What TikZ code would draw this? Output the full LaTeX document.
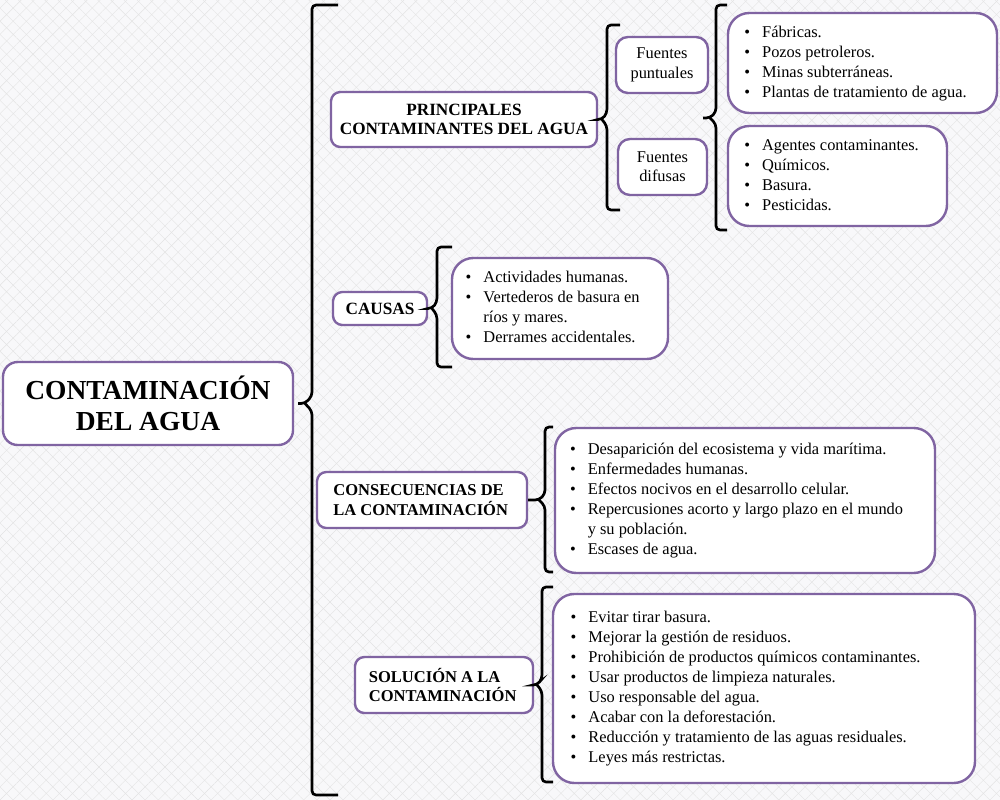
\documentclass[tikz,border=0pt]{standalone}
\usepackage{fontspec}
\setmainfont{Liberation Serif}
\usetikzlibrary{fit,patterns.meta}
\definecolor{purp}{HTML}{8064A2}
\definecolor{bgc}{HTML}{F8F8FA}
\begin{document}
\begin{tikzpicture}[x=0.75pt,y=-0.75pt,
  box/.style={draw=purp, line width=1.8pt, fill=white, inner sep=0pt},
  mainbox/.style={box, rounded corners=11pt},
  headbox/.style={box, rounded corners=7pt},
  listbox/.style={box, rounded corners=16pt},
  srcbox/.style={box, rounded corners=9pt},
  maintext/.style={inner sep=0pt, font=\fontsize{20.6}{23.3}\selectfont\bfseries, align=center},
  headtext/.style={inner sep=0pt, font=\fontsize{12.9}{14.5}\selectfont\bfseries},
  headtextsm/.style={inner sep=0pt, font=\fontsize{12.4}{14.5}\selectfont\bfseries, align=left},
  srctext/.style={inner sep=0pt, font=\fontsize{12.3}{14.5}\selectfont, align=center},
  listtext/.style={anchor=west, inner sep=0pt, font=\fontsize{12.3}{15}\selectfont},
  bracepath/.style={draw=black, line width=2pt, rounded corners=3pt}]
\fill[bgc] (0,0) rectangle (1000,800);
\fill[pattern={Lines[angle=45,distance=7pt,line width=0.3pt]}, pattern color=gray!22] (0,0) rectangle (1000,800);
\fill[pattern={Lines[angle=-45,distance=7pt,line width=0.3pt]}, pattern color=gray!22] (0,0) rectangle (1000,800);
\useasboundingbox (0,0) rectangle (1000,800);

% main
\node[mainbox, fit={(3,362) (293,445)}] (main) {};
\node[maintext] (mainT) at (main.center) {CONTAMINACIÓN\\DEL AGUA};

% headings
\node[headbox, fit={(331,92) (597,147)}] (h1) {};
\node[headtext, align=center] (h1T) at (h1.center) {PRINCIPALES\\CONTAMINANTES DEL AGUA};
\node[headbox, fit={(333,292) (427,325)}] (h2) {};
\node[headtext] (h2T) at (h2.center) {CAUSAS};
\node[headbox, fit={(317,472) (527,528)}] (h3) {};
\node[headtextsm] (h3T) at ([xshift=-1pt]h3.center) {CONSECUENCIAS DE\\LA CONTAMINACIÓN};
\node[headbox, fit={(355,657) (533,713)}] (h4) {};
\node[headtextsm] (h4T) at ([xshift=-1pt]h4.center) {SOLUCIÓN A LA\\CONTAMINACIÓN};

% sources
\node[srcbox, fit={(616,37) (708,93)}] (fp) {};
\node[srctext] (fpT) at (fp.center) {Fuentes\\puntuales};
\node[srcbox, fit={(618,139) (707,195)}] (fd) {};
\node[srctext] (fdT) at (fd.center) {Fuentes\\difusas};

% list boxes
\node[listbox, fit={(728,13) (997,113)}] (lA) {};
\node[listtext] (tA) at ([xshift=13pt]lA.west) {\begin{tabular}{@{}l@{\hspace{9pt}}l@{}}
•&Fábricas.\\
•&Pozos petroleros.\\
•&Minas subterráneas.\\
•&Plantas de tratamiento de agua.
\end{tabular}};

\node[listbox, fit={(728,126) (947,226)}] (lB) {};
\node[listtext] (tB) at ([xshift=13pt]lB.west) {\begin{tabular}{@{}l@{\hspace{9pt}}l@{}}
•&Agentes contaminantes.\\
•&Químicos.\\
•&Basura.\\
•&Pesticidas.
\end{tabular}};

\node[listbox, fit={(452,258) (668,359)}] (lC) {};
\node[listtext] (tC) at ([xshift=11pt]lC.west) {\begin{tabular}{@{}l@{\hspace{9pt}}l@{}}
•&Actividades humanas.\\
•&Vertederos de basura en\\
&ríos y mares.\\
•&Derrames accidentales.
\end{tabular}};

\node[listbox, fit={(555,428) (935,573)}] (lD) {};
\node[listtext] (tD) at ([xshift=12pt]lD.west) {\begin{tabular}{@{}l@{\hspace{9pt}}l@{}}
•&Desaparición del ecosistema y vida marítima.\\
•&Enfermedades humanas.\\
•&Efectos nocivos en el desarrollo celular.\\
•&Repercusiones acorto y largo plazo en el mundo\\
&y su población.\\
•&Escases de agua.
\end{tabular}};

\node[listbox, fit={(553,594) (975,783)}] (lE) {};
\node[listtext] (tE) at ([xshift=14pt]lE.west) {\begin{tabular}{@{}l@{\hspace{9pt}}l@{}}
•&Evitar tirar basura.\\
•&Mejorar la gestión de residuos.\\
•&Prohibición de productos químicos contaminantes.\\
•&Usar productos de limpieza naturales.\\
•&Uso responsable del agua.\\
•&Acabar con la deforestación.\\
•&Reducción y tratamiento de las aguas residuales.\\
•&Leyes más restrictas.
\end{tabular}};

% braces
\draw[bracepath] (338,5) -- (312,5) -- (312,396) -- (305,403.5) -- ([xshift=3pt]main.east)
  (305,403.5) -- (312,411) -- (312,795) -- (338,795);
\draw[bracepath] (620,25) -- (607,25) -- (607,113) -- (602,119.5) -- (h1.east)
  (602,119.5) -- (607,126) -- (607,210) -- (620,210);
\coordinate (t3) at (703,118);
\draw[bracepath] (727,5) -- (716,5) -- (716,112) -- (710,118) -- (t3)
  (710,118) -- (716,124) -- (716,230) -- (727,230);
\draw[bracepath] (452,247) -- (437,247) -- (437,302) -- (432,308.5) -- (h2.east)
  (432,308.5) -- (437,315) -- (437,367) -- (452,367);
\draw[bracepath] (553,427) -- (545,427) -- (545,494) -- (539,500) -- (h3.east)
  (539,500) -- (545,506) -- (545,572) -- (553,572);
\draw[bracepath] (553,587) -- (542,587) -- (542,679) -- (537,685) -- (h4.east)
  (537,685) -- (542,691) -- (542,782) -- (553,782);
\end{tikzpicture}
\end{document}
